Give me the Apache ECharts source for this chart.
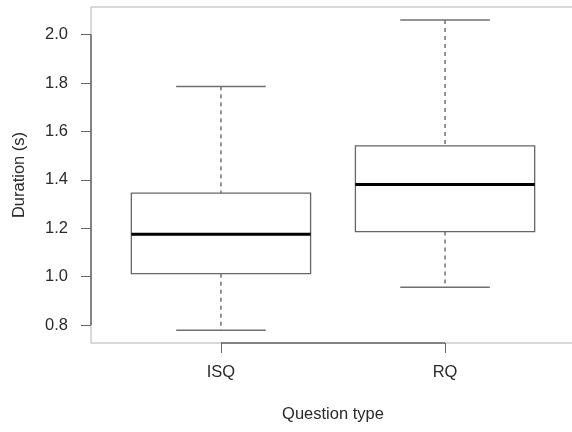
<!DOCTYPE html>
<html>
<head>
<meta charset="utf-8">
<script src="https://cdn.jsdelivr.net/npm/echarts@6/dist/echarts.min.js"></script>
<style>html,body{margin:0;padding:0;background:#fff}#c{width:572px;height:432px}</style>
</head>
<body>
<div id="c"></div>
<script>
const categories = ['ISQ', 'RQ'];
const lowerWhisker = [0.778, 0.956];
const q1 = [1.012, 1.186];
const median = [1.175, 1.381];
const q3 = [1.345, 1.540];
const upperWhisker = [1.786, 2.060];
const yTicks = [0.8, 1.0, 1.2, 1.4, 1.6, 1.8, 2.0];
const yTitle = 'Duration (s)';
const xTitle = 'Question type';

const xPos = categories.map((c, i) => i + 1);
const boxData = categories.map((c, i) => [xPos[i], lowerWhisker[i], q1[i], median[i], q3[i], upperWhisker[i]]);
const xMin = 0.42, xMax = xPos.length + 0.58;
const yMin = 0.7256, yMax = 2.114;
const FONT = '"Liberation Sans", Arial, sans-serif';

const chart = echarts.init(document.getElementById('c'), null, {renderer: 'canvas'});
chart.setOption({
  backgroundColor: '#ffffff',
  animation: false,
  grid: {left: 91, top: 7, width: 484, height: 336, outerBoundsMode: 'none', containLabel: false,
    show: true, borderColor: '#b0b0b0', borderWidth: 1, backgroundColor: 'transparent'},
  xAxis: {
    type: 'value', min: xMin, max: xMax,
    name: xTitle, nameLocation: 'middle', nameGap: 63,
    nameTextStyle: {fontFamily: FONT, fontSize: 16.5, color: '#2a2a2a'},
    axisLine: {show: false},
    splitLine: {show: false},
    axisTick: {show: true, customValues: xPos, length: 10, lineStyle: {color: '#666'}},
    axisLabel: {show: true, customValues: xPos, margin: 21, fontFamily: FONT, fontSize: 16.5, color: '#2a2a2a',
      formatter: v => categories[Math.round(v) - 1] || ''}
  },
  yAxis: {
    type: 'value', min: yMin, max: yMax,
    name: yTitle, nameLocation: 'middle', nameGap: 63, nameRotate: 90,
    nameTextStyle: {fontFamily: FONT, fontSize: 16.5, color: '#2a2a2a'},
    axisLine: {show: false},
    splitLine: {show: false},
    axisTick: {show: true, customValues: yTicks, length: 10, lineStyle: {color: '#666'}},
    axisLabel: {show: true, customValues: yTicks, margin: 23, fontFamily: FONT, fontSize: 16.5, color: '#2a2a2a',
      formatter: v => v.toFixed(1)}
  },
  series: [
    {
      type: 'custom',
      data: boxData,
      renderItem: function (params, api) {
        const x = api.value(0);
        const lo = api.value(1), a = api.value(2), m = api.value(3), b = api.value(4), hi = api.value(5);
        const tl = api.coord([x - 0.4, b]);
        const br = api.coord([x + 0.4, a]);
        const mL = api.coord([x - 0.4, m]);
        const mR = api.coord([x + 0.4, m]);
        const cHi = api.coord([x, hi]);
        const cB = api.coord([x, b]);
        const cA = api.coord([x, a]);
        const cLo = api.coord([x, lo]);
        const capHiL = api.coord([x - 0.2, hi]);
        const capHiR = api.coord([x + 0.2, hi]);
        const capLoL = api.coord([x - 0.2, lo]);
        const capLoR = api.coord([x + 0.2, lo]);
        const wStyle = {stroke: '#707070', lineWidth: 1.5, lineDash: [4, 4]};
        const cStyle = {stroke: '#707070', lineWidth: 1.5};
        return {
          type: 'group',
          children: [
            {type: 'line', shape: {x1: cHi[0], y1: cHi[1], x2: cB[0], y2: cB[1]}, style: wStyle},
            {type: 'line', shape: {x1: cA[0], y1: cA[1], x2: cLo[0], y2: cLo[1]}, style: wStyle},
            {type: 'line', shape: {x1: capHiL[0], y1: capHiL[1], x2: capHiR[0], y2: capHiR[1]}, style: cStyle},
            {type: 'line', shape: {x1: capLoL[0], y1: capLoL[1], x2: capLoR[0], y2: capLoR[1]}, style: cStyle},
            {type: 'rect', shape: {x: tl[0], y: tl[1], width: br[0] - tl[0], height: br[1] - tl[1]},
              style: {fill: '#ffffff', stroke: '#666666', lineWidth: 1.3}},
            {type: 'line', shape: {x1: mL[0], y1: mL[1], x2: mR[0], y2: mR[1]}, style: {stroke: '#000', lineWidth: 3}}
          ]
        };
      }
    },
    {
      type: 'custom',
      data: [[0]],
      silent: true,
      renderItem: function (params, api) {
        const y0 = api.coord([xMin, yTicks[0]]);
        const y1 = api.coord([xMin, yTicks[yTicks.length - 1]]);
        const x0 = api.coord([xPos[0], yMin]);
        const x1 = api.coord([xPos[xPos.length - 1], yMin]);
        const st = {stroke: '#666', lineWidth: 1.5};
        return {
          type: 'group',
          children: [
            {type: 'line', shape: {x1: y0[0], y1: y0[1], x2: y1[0], y2: y1[1]}, style: st},
            {type: 'line', shape: {x1: x0[0], y1: x0[1], x2: x1[0], y2: x1[1]}, style: st}
          ]
        };
      }
    }
  ]
});
</script>
</body>
</html>
